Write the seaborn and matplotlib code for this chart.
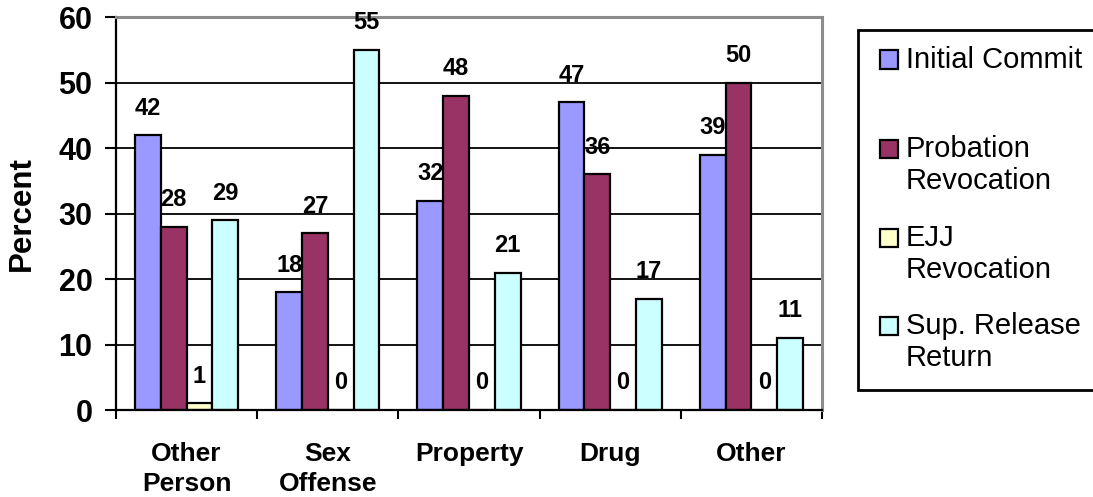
import numpy as np
import pandas as pd
import seaborn as sns
import matplotlib.pyplot as plt
from matplotlib.patches import Rectangle

# Offense categories and the share (%) of each admission type
categories = ["Other\nPerson", "Sex\nOffense", "Property", "Drug", "Other"]
series = ["Initial Commit", "Probation Revocation", "EJJ Revocation", "Sup. Release Return"]
initial_commit = [42, 18, 32, 47, 39]
probation_revocation = [28, 27, 48, 36, 50]
ejj_revocation = [1, 0, 0, 0, 0]
sup_release_return = [29, 55, 21, 17, 11]
legend_lines = [["Initial Commit"], ["Probation", "Revocation"],
                ["EJJ", "Revocation"], ["Sup. Release", "Return"]]
colors = ["#9999FF", "#993366", "#FFFFCC", "#CCFFFF"]
y_ticks = [0, 10, 20, 30, 40, 50, 60]

values = [initial_commit, probation_revocation, ejj_revocation, sup_release_return]
df = pd.DataFrame({
    "category": np.repeat([categories], len(series), axis=0).ravel(),
    "series": np.repeat(series, len(categories)),
    "percent": np.concatenate(values),
})

sns.set_theme(style="white")
plt.rcParams["font.family"] = ["Liberation Sans", "DejaVu Sans"]

W, H = 1093, 497
fig = plt.figure(figsize=(W / 100, H / 100), dpi=100)
fig.patch.set_facecolor("white")

def px(x0, y0, x1, y1):
    return [x0 / W, 1 - y1 / H, (x1 - x0) / W, (y1 - y0) / H]

ax = fig.add_axes(px(116, 17.3, 822, 410))

sns.barplot(data=df, x="category", y="percent", hue="series", order=categories,
            hue_order=series, palette=colors, saturation=1, width=0.73, gap=0,
            edgecolor="black", linewidth=1.6, legend=False, errorbar=None, ax=ax)

# value labels above every bar
for cont, vals in zip(ax.containers, values):
    for bar, v in zip(cont, vals):
        ax.annotate(f"{v}", (bar.get_x() + bar.get_width() / 2, v),
                    xytext=(0, 19.5), textcoords="offset points",
                    ha="center", va="center", fontsize=17, fontweight="bold",
                    color="black", annotation_clip=False)

ax.set_ylim(0, 60)
ax.set_xlim(-0.5, len(categories) - 0.5)
ax.set_yticks(y_ticks)
ax.set_yticklabels([str(t) for t in y_ticks], fontsize=22, fontweight="bold")
ax.yaxis.grid(True, color="black", linewidth=1.3)
ax.set_axisbelow(True)
ax.set_xlabel("")
ax.set_ylabel("")

ax.set_xticks(range(len(categories)))
ax.set_xticklabels(categories, fontsize=19, fontweight="bold", linespacing=1.3)
ax.set_xticks(np.arange(-0.5, len(categories)), minor=True)
ax.tick_params(axis="x", which="major", length=0, pad=23)
ax.tick_params(axis="x", which="minor", direction="out", length=6.5, width=1.5,
               color="black", bottom=True)
ax.tick_params(axis="y", direction="out", length=8, width=1.5, color="black",
               left=True, pad=9, labelcolor="black")
ax.tick_params(axis="x", labelcolor="black")

for side in ("left", "bottom"):
    ax.spines[side].set_color("black")
    ax.spines[side].set_linewidth(1.6)
for side in ("top", "right"):
    ax.spines[side].set_color("#8c8c8c")
    ax.spines[side].set_linewidth(2.2)

fig.text(22 / W, 1 - 213.5 / H, "Percent", rotation=90, ha="center", va="center",
         fontsize=22.5, fontweight="bold", color="black")

# legend panel
fig.add_artist(Rectangle((858 / W, 1 - 390 / H), 260 / W, 360 / H,
                         transform=fig.transFigure, facecolor="white",
                         edgecolor="black", linewidth=2, clip_on=False))
entry_y = [59, 148, 237, 325]
for lines, col, y0 in zip(legend_lines, colors, entry_y):
    fig.add_artist(Rectangle((880 / W, 1 - (y0 + 9.5) / H), 18 / W, 18 / H,
                             transform=fig.transFigure, facecolor=col,
                             edgecolor="black", linewidth=1.6))
    for i, line in enumerate(lines):
        fig.text(906 / W, 1 - (y0 + 1 + i * 32) / H, line, ha="left", va="center",
                 fontsize=21, color="black")

fig.savefig("out.png", dpi=100, facecolor="white")
